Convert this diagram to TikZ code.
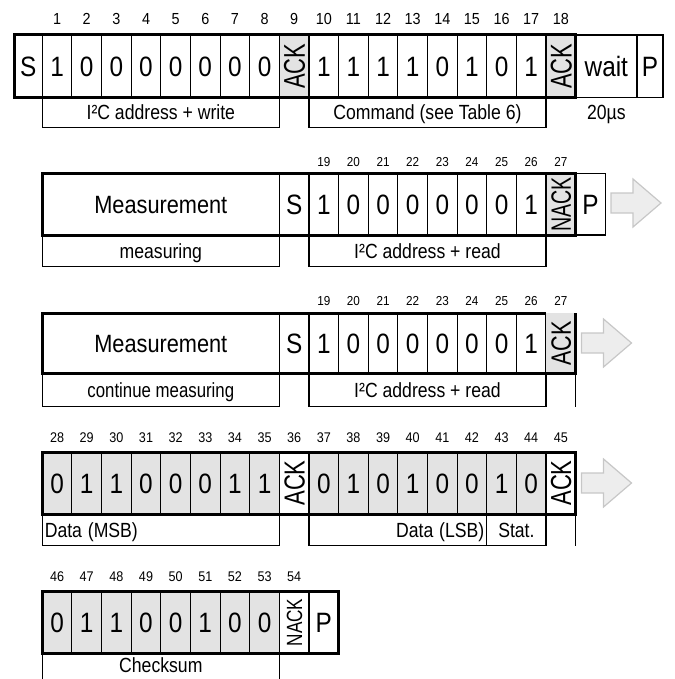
\documentclass[tikz,border=0pt]{standalone}
\usepackage{fontspec}
\setmainfont{Liberation Sans}
\usepackage{graphicx}
\newcommand{\sqB}[1]{\scalebox{0.87}[1]{#1}}
\newcommand{\sqL}[1]{\scalebox{0.86}[1]{#1}}
\newcommand{\sqN}[1]{\scalebox{0.9}[1]{#1}}
\def\W{29.63}
\def\X{42.3}
\tikzset{
  cell/.style={draw, line width=1.1pt, inner sep=0pt, outer sep=0pt, anchor=north west,
    font=\fontsize{28}{30}\selectfont, text height=20pt, text depth=0pt, minimum width=29.63pt},
  gcell/.style={cell, fill=black!11},
  gfill/.style={cell, draw=none, fill=black!11},
  meas/.style={cell, font=\fontsize{25}{27}\selectfont, text height=17.9pt, minimum width=237.04pt},
  frame/.style={line width=3pt},
  thin/.style={line width=1.1pt},
  lab/.style={draw, line width=1.1pt, inner sep=0pt, outer sep=0pt, anchor=north west,
    font=\fontsize{20.5}{22}\selectfont, text height=14.7pt, text depth=0pt},
  labtxt/.style={inner sep=0pt, font=\fontsize{20.5}{22}\selectfont, text height=14.7pt, text depth=0pt},
  numA/.style={inner sep=0pt, font=\fontsize{16}{16}\selectfont, text height=11.5pt, text depth=0pt},
  numB/.style={inner sep=0pt, font=\fontsize{13}{13}\selectfont, text height=9.3pt, text depth=0pt},
  numC/.style={inner sep=0pt, font=\fontsize{14}{14}\selectfont, text height=10pt, text depth=0pt},
  rot/.style={rotate=90, inner sep=0pt, text depth=0pt},
  arr/.style={draw=black!22, fill=black!7, line width=1.2pt, line join=miter},
}
\begin{document}
\begin{tikzpicture}[x=1pt, y=-1pt]
\useasboundingbox (0,0) rectangle (674,679);

% ================= Row 1 =================
\foreach \i [evaluate=\i as \n using {int(\i+1)}] in {0,...,17}
  \node[numA] (n1-\i) at ({\X+(\i+0.5)*\W},19) {\sqN{\n}};
\node[cell, minimum height=62.3pt, minimum width=28.3pt] (r1s) at (14,35) {\sqB{S}};
\foreach \i/\t in {0/1,1/0,2/0,3/0,4/0,5/0,6/0,7/0,9/1,10/1,11/1,12/1,13/0,14/1,15/0,16/1}
  \node[cell, minimum height=62.3pt] (r1c\i) at ({\X+\i*\W},35) {\sqB{\t}};
\node[gcell, minimum height=62.3pt] (r1c8) at ({\X+8*\W},35) {};
\node[gcell, minimum height=62.3pt] (r1c17) at ({\X+17*\W},35) {};
\node[rot, font=\fontsize{30}{30}\selectfont, text height=21.5pt] (r1k8) at (r1c8.center) {\scalebox{0.73}[1]{ACK}};
\node[rot, font=\fontsize{30}{30}\selectfont, text height=21.5pt] (r1k17) at (r1c17.center) {\scalebox{0.73}[1]{ACK}};
\node[cell, minimum height=62.3pt, minimum width=61.4pt] (r1w) at ({\X+18*\W},35) {\sqB{wait}};
\node[cell, minimum height=62.3pt, minimum width=26pt] (r1p) at (637,35) {\sqB{P}};
\draw[frame] (r1s.north west) rectangle (r1c17.south east);
\node[lab, minimum width=237.04pt, minimum height=30.4pt] (l1a) at (\X,97.3) {\sqL{I²C address + write}};
\node[lab, minimum width=237.04pt, minimum height=30.4pt] (l1b) at ({\X+9*\W},97.3) {\sqL{Command (see Table 6)}};
\node[labtxt] (l1c) at (r1w.center |- 0,112.5) {\sqL{20µs}};

% ================= Row 2 =================
\foreach \i [evaluate=\i as \n using {int(\i+10)}] in {9,...,17}
  \node[numB] (n2-\i) at ({\X+(\i+0.5)*\W},161.7) {\sqN{\n}};
\node[meas, minimum height=61.7pt] (r2m) at (\X,173.3) {\sqB{Measurement}};
\foreach \i/\t in {8/S,9/1,10/0,11/0,12/0,13/0,14/0,15/0,16/1,18/P}
  \node[cell, minimum height=61.7pt] (r2c\i) at ({\X+\i*\W},173.3) {\sqB{\t}};
\node[gcell, minimum height=61.7pt] (r2c17) at ({\X+17*\W},173.3) {};
\node[rot, font=\fontsize{28}{28}\selectfont, text height=20pt] (r2k17) at (r2c17.center) {\scalebox{0.70}[1]{NACK}};
\draw[frame] (r2m.north west) rectangle (r2c17.south east);
\node[lab, minimum width=237.04pt, minimum height=31.7pt] (l2a) at (\X,235) {\sqL{measuring}};
\node[lab, minimum width=237.04pt, minimum height=31.7pt] (l2b) at ({\X+9*\W},235) {\sqL{I²C address + read}};
\draw[arr] (611,193) -- (633,193) -- (633,179) -- (661,203) -- (633,227) -- (633,213) -- (611,213) -- cycle;

% ================= Row 3 =================
\foreach \i [evaluate=\i as \n using {int(\i+10)}] in {9,...,17}
  \node[numB] (n3-\i) at ({\X+(\i+0.5)*\W},301) {\sqN{\n}};
\node[meas, minimum height=60pt] (r3m) at (\X,313.3) {\sqB{Measurement}};
\foreach \i/\t in {8/S,9/1,10/0,11/0,12/0,13/0,14/0,15/0,16/1}
  \node[cell, minimum height=60pt] (r3c\i) at ({\X+\i*\W},313.3) {\sqB{\t}};
\node[gfill, minimum height=60pt] (r3c17) at ({\X+17*\W},313.3) {};
\node[rot, font=\fontsize{28}{28}\selectfont, text height=20pt] (r3k17) at (r3c17.center) {\scalebox{0.77}[1]{ACK}};
\draw[frame] (r3c16.north east) -- (r3m.north west) -- (r3m.south west) -- (r3c17.south east) -- (r3c17.north east);
\node[lab, minimum width=237.04pt, minimum height=33.4pt] (l3a) at (\X,373.3) {\scalebox{0.82}[1]{continue measuring}};
\node[lab, minimum width=237.04pt, minimum height=33.4pt] (l3b) at ({\X+9*\W},373.3) {\sqL{I²C address + read}};
\draw[thin] (r3c17.south east) -- (r3c17.south east |- l3b.south);
\draw[arr] (581.5,333) -- (603.5,333) -- (603.5,319) -- (631.5,343) -- (603.5,367) -- (603.5,353) -- (581.5,353) -- cycle;

% ================= Row 4 =================
\foreach \i [evaluate=\i as \n using {int(\i+28)}] in {0,...,17}
  \node[numC] (n4-\i) at ({\X+(\i+0.5)*\W},437) {\sqN{\n}};
\foreach \i/\t in {0/0,1/1,2/1,3/0,4/0,5/0,6/1,7/1,9/0,10/1,11/0,12/1,13/0,14/0,15/1,16/0}
  \node[gcell, minimum height=62pt] (r4c\i) at ({\X+\i*\W},452) {\sqB{\t}};
\node[cell, minimum height=62pt] (r4c8) at ({\X+8*\W},452) {};
\node[cell, minimum height=62pt] (r4c17) at ({\X+17*\W},452) {};
\node[rot, font=\fontsize{29}{29}\selectfont, text height=20.8pt] (r4k8) at (r4c8.center) {\scalebox{0.76}[1]{ACK}};
\node[rot, font=\fontsize{29}{29}\selectfont, text height=20.8pt] (r4k17) at (r4c17.center) {\scalebox{0.76}[1]{ACK}};
\draw[frame] (r4c0.north west) rectangle (r4c17.south east);
\node[lab, minimum width=237.04pt, minimum height=31.5pt, text width=232.04pt, inner xsep=2.5pt, align=left] (l4a) at (\X,514) {\sqL{Data (MSB)}};
\node[lab, minimum width=177.78pt, minimum height=31.5pt, text width=172.78pt, inner xsep=2.5pt, align=right] (l4b) at ({\X+9*\W},514) {\sqL{Data (LSB)}};
\node[lab, minimum width=59.26pt, minimum height=31.5pt] (l4c) at ({\X+15*\W},514) {\sqL{Stat.}};
\draw[thin] (r4c17.south east) -- (r4c17.south east |- l4c.south);
\draw[arr] (581.5,473) -- (603.5,473) -- (603.5,459) -- (631.5,483) -- (603.5,507) -- (603.5,493) -- (581.5,493) -- cycle;

% ================= Row 5 =================
\foreach \i [evaluate=\i as \n using {int(\i+46)}] in {0,...,8}
  \node[numC] (n5-\i) at ({\X+(\i+0.5)*\W},576.7) {\sqN{\n}};
\foreach \i/\t in {0/0,1/1,2/1,3/0,4/0,5/1,6/0,7/0}
  \node[gcell, minimum height=61.6pt] (r5c\i) at ({\X+\i*\W},591.7) {\sqB{\t}};
\node[cell, minimum height=61.6pt] (r5c8) at ({\X+8*\W},591.7) {};
\node[cell, minimum height=61.6pt] (r5c9) at ({\X+9*\W},591.7) {\sqB{P}};
\node[rot, font=\fontsize{22}{22}\selectfont, text height=15.8pt] (r5k8) at (r5c8.center) {\scalebox{0.78}[1]{NACK}};
\draw[frame] (r5c0.north west) rectangle (r5c9.south east);
\node[lab, minimum width=237.04pt, minimum height=40pt] (l5a) at (\X,653.3) {};
\node[labtxt] (l5t) at (l5a.center |- 0,665.5) {\sqL{Checksum}};
\end{tikzpicture}
\end{document}
